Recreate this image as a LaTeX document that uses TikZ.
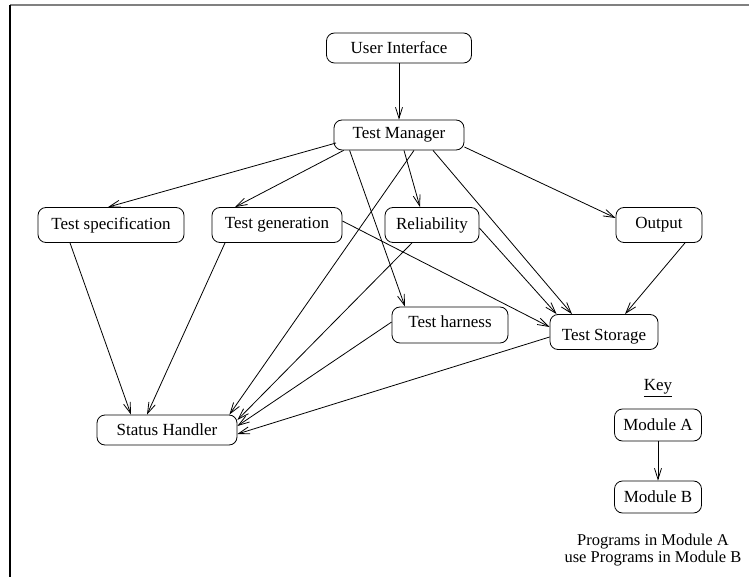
\documentclass[tikz,border=0pt]{standalone}
\usepackage{fontspec}
\setmainfont{Liberation Serif}
\usetikzlibrary{arrows.meta,calc}
\begin{document}
\begin{tikzpicture}[x=1pt,y=-1pt,
  box/.style={draw,rounded corners=8pt,line width=0.8pt,inner sep=0pt,font=\fontsize{17}{20}\selectfont},
  arr/.style={line width=0.8pt,-{Straight Barb[length=11pt,width=7pt]}},
  lbl/.style={font=\fontsize{17}{20}\selectfont}]
\useasboundingbox (0,0) rectangle (749,577);
\draw[gray,line width=2pt] (10,5) -- (749,5);
\draw[line width=1.5pt] (10,5) -- (10,577);

\node[box,minimum width=145pt,minimum height=30pt] (ui) at (399,48) {User Interface};
\node[box,minimum width=130pt,minimum height=30pt] (tm) at (399,135) {Test Manager};
\node[box,minimum width=146pt,minimum height=35pt] (ts) at (111,225) {Test specification};
\node[box,minimum width=130pt,minimum height=35pt] (tg) at (277,225) {Test generation};
\node[box,minimum width=94pt,minimum height=35pt] (rel) at (432,225) {Reliability};
\node[box,minimum width=86pt,minimum height=35pt] (out) at (659,225) {Output};
\node[box,minimum width=116pt,minimum height=36pt] (th) at (450,325) {\raisebox{3pt}[\height][\depth]{Test harness}};
\node[box,minimum width=108pt,minimum height=35pt] (st) at (604,332) {\raisebox{-5pt}[\height][\depth]{Test Storage}};
\node[box,minimum width=140pt,minimum height=30pt] (sh) at (167,430) {Status Handler};
\node[lbl] (key) at (658,388) {\underline{Key}};
\node[box,minimum width=87pt,minimum height=32pt] (ma) at (658,425) {Module A};
\node[box,minimum width=87pt,minimum height=32pt] (mb) at (658,497) {Module B};
\node[lbl,align=center,font=\fontsize{16.5}{17}\selectfont] (cap) at (653,550) {Programs in Module A\\use Programs in Module B};

\draw[arr] (ui) -- (tm);
\draw[arr] (ma) -- (mb);
\draw[arr] ($(tm)+(-63,8)$) -- ($(ts.north)+(-3,0)$);
\draw[arr] ($(tm.south west)+(10,0)$) -- ($(tg.north)+(-42,0)$);
\draw[arr] ($(tm.south west)+(16,0)$) -- ($(th.north)+(-45,0)$);
\draw[arr] ($(tm.south)+(15,0)$) -- ($(sh.north east)+(-8,0)$);
\draw[arr] ($(tm.south)+(5,0)$) -- ($(rel.north)+(-12,0)$);
\draw[arr] ($(tm.south)+(34,0)$) -- ($(st.north)+(-32,0)$);
\draw[arr] ($(tm.east)+(0,12)$) -- ($(out.west)+(0,-7)$);
\draw[arr] ($(ts.south)+(-41,0)$) -- ($(sh.north)+(-36,0)$);
\draw[arr] ($(tg.south)+(-52,0)$) -- ($(sh.north)+(-20,0)$);
\draw[arr] ($(tg.east)+(0,-4)$) -- ($(st.west)+(0,-5)$);
\draw[arr] ($(rel.south)+(-20,0)$) -- ($(sh.east)+(0,-10)$);
\draw[arr] ($(rel.east)+(0,3)$) -- ($(st.north west)+(7,0)$);
\draw[arr] ($(out.south)+(26,0)$) -- ($(st.north)+(21,0)$);
\draw[arr] ($(th.west)+(0,-3)$) -- ($(sh.east)+(0,-4)$);
\draw[arr] ($(st.west)+(0,5)$) -- ($(sh.east)+(0,4)$);
\end{tikzpicture}
\end{document}
